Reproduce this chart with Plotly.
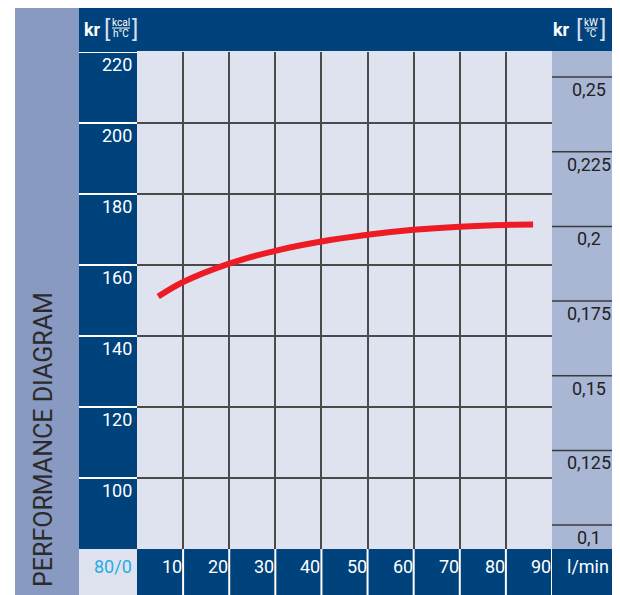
import plotly.graph_objects as go

# data
flow = [4.6, 10, 20, 30, 40, 50, 60, 70, 80, 85.9]          # l/min
kr_kcal = [151.1, 155.2, 160.4, 164.0, 166.6, 168.5, 169.9, 170.8, 171.3, 171.4]

x_ticks = [10, 20, 30, 40, 50, 60, 70, 80, 90]
y_ticks = [220, 200, 180, 160, 140, 120, 100]
kw_ticks = [0.25, 0.225, 0.2, 0.175, 0.15, 0.125, 0.1]
kw_labels = ["0,25", "0,225", "0,2", "0,175", "0,15", "0,125", "0,1"]

W, H = 620, 595
OFF = 8
DARK = "#00427c"
LEFT_BAND = "#8899c2"
RIGHT_BAND = "#aab7d4"
PLOT_BG = "#dfe3ef"
FONT = "Roboto, Liberation Sans, sans-serif"


def px(x):
    return (x - OFF) / W


def py(y):
    return 1 - (y - OFF) / H


fig = go.Figure()

fig.add_trace(go.Scatter(
    x=flow, y=kr_kcal, mode="lines",
    line=dict(color="#ed1c24", width=6, shape="spline", smoothing=1.0),
    hoverinfo="skip", showlegend=False,
))
# invisible trace to activate the right axis
fig.add_trace(go.Scatter(x=[0], y=[0.2], yaxis="y2", mode="markers",
                         marker=dict(opacity=0), showlegend=False, hoverinfo="skip"))

shapes = []


def rect(x0, y0, x1, y1, color):
    shapes.append(dict(type="rect", xref="paper", yref="paper",
                       x0=px(x0), x1=px(x1), y0=py(y1), y1=py(y0),
                       fillcolor=color, line=dict(width=0), layer="below"))


# background blocks
rect(15, 8, 79, 600, LEFT_BAND)
rect(79, 8, 617, 51, DARK)
rect(79, 51, 137, 549, DARK)
rect(552, 51, 617, 549, RIGHT_BAND)
rect(137, 51, 552, 549, PLOT_BG)
rect(79, 549, 137, 600, PLOT_BG)
rect(137, 549, 617, 600, DARK)

# white separators in the left tick column
for v in y_ticks:
    shapes.append(dict(type="line", xref="paper", yref="y",
                       x0=px(79), x1=px(137), y0=v, y1=v,
                       line=dict(color="white", width=2)))
# lines in the right column
for v in kw_ticks:
    shapes.append(dict(type="line", xref="paper", yref="y2",
                       x0=px(552), x1=px(617), y0=v, y1=v,
                       line=dict(color="#3a3a3a", width=1.5)))
# white separators in the bottom band
for v in x_ticks:
    shapes.append(dict(type="line", xref="x", yref="paper",
                       x0=v, x1=v, y0=0, y1=py(549),
                       line=dict(color="white", width=2)))

annotations = []

for v in y_ticks:
    annotations.append(dict(x=px(134), y=v, xref="paper", yref="y",
                            text=str(v), showarrow=False, xanchor="right", yanchor="top",
                            yshift=0, font=dict(family=FONT, size=18, color="white")))
for v, t in zip(kw_ticks, kw_labels):
    annotations.append(dict(x=px(589), y=v, xref="paper", yref="y2",
                            text=t, showarrow=False, xanchor="center", yanchor="top",
                            yshift=0, font=dict(family=FONT, size=18, color="#222222")))
for v in x_ticks:
    annotations.append(dict(x=v, y=py(566), xref="x", yref="paper",
                            text=str(v), showarrow=False, xanchor="right", yanchor="middle",
                            xshift=1, font=dict(family=FONT, size=18, color="white")))

annotations.append(dict(x=px(134), y=py(566), xref="paper", yref="paper", text="80/0",
                        showarrow=False, xanchor="right", yanchor="middle",
                        font=dict(family=FONT, size=18, color="#29abe2")))
annotations.append(dict(x=px(588), y=py(566), xref="paper", yref="paper", text="l/min",
                        showarrow=False, xanchor="center", yanchor="middle",
                        font=dict(family=FONT, size=18, color="white")))

# vertical title
annotations.append(dict(x=px(43), y=py(440), xref="paper", yref="paper",
                        xanchor="center", yanchor="middle",
                        text="PERFORMANCE DIAGRAM", textangle=-90, showarrow=False,
                        font=dict(family=FONT, size=25, color="#2b2b2b")))


def unit_label(x_kr, x_frac, top, bottom, line_w):
    annotations.append(dict(x=px(x_kr), y=py(30), xref="paper", yref="paper", text="<b>kr</b>",
                            showarrow=False, xanchor="left", yanchor="middle",
                            font=dict(family=FONT, size=18, color="white")))
    annotations.append(dict(x=px(x_frac - line_w / 2 - 5), y=py(29), xref="paper", yref="paper",
                            text="[", showarrow=False, xanchor="center", yanchor="middle",
                            font=dict(family=FONT, size=24, color="#d5dcec")))
    annotations.append(dict(x=px(x_frac + line_w / 2 + 5), y=py(29), xref="paper", yref="paper",
                            text="]", showarrow=False, xanchor="center", yanchor="middle",
                            font=dict(family=FONT, size=24, color="#d5dcec")))
    annotations.append(dict(x=px(x_frac), y=py(22), xref="paper", yref="paper", text=top,
                            showarrow=False, xanchor="center", yanchor="middle",
                            font=dict(family=FONT, size=10, color="white")))
    annotations.append(dict(x=px(x_frac), y=py(34), xref="paper", yref="paper", text=bottom,
                            showarrow=False, xanchor="center", yanchor="middle",
                            font=dict(family=FONT, size=10, color="white")))
    shapes.append(dict(type="line", xref="paper", yref="paper",
                       x0=px(x_frac - line_w / 2), x1=px(x_frac + line_w / 2),
                       y0=py(28), y1=py(28), line=dict(color="white", width=1)))


unit_label(82, 121, "kcal", "h°C", 18)
unit_label(551, 591, "kW", "°C", 13)

fig.update_layout(
    width=W, height=H,
    margin=dict(l=0, r=0, t=0, b=0),
    paper_bgcolor="white",
    plot_bgcolor="rgba(0,0,0,0)",
    xaxis=dict(domain=[px(137), px(552)], range=[0, 90],
               tickvals=[10, 20, 30, 40, 50, 60, 70, 80],
               showticklabels=False, ticks="", showgrid=True,
               gridcolor="#4a4a4a", gridwidth=1.5, zeroline=False, showline=False,
               fixedrange=True),
    yaxis=dict(domain=[py(549), py(52)], range=[80, 220],
               tickvals=[100, 120, 140, 160, 180, 200],
               showticklabels=False, ticks="", showgrid=True,
               gridcolor="#4a4a4a", gridwidth=1.5, zeroline=False, showline=False,
               fixedrange=True),
    yaxis2=dict(overlaying="y", side="right", range=[0.092, 0.2584],
                showticklabels=False, ticks="", showgrid=False, zeroline=False,
                showline=False, fixedrange=True),
    shapes=shapes,
    annotations=annotations,
)

fig.write_html("out.html")
